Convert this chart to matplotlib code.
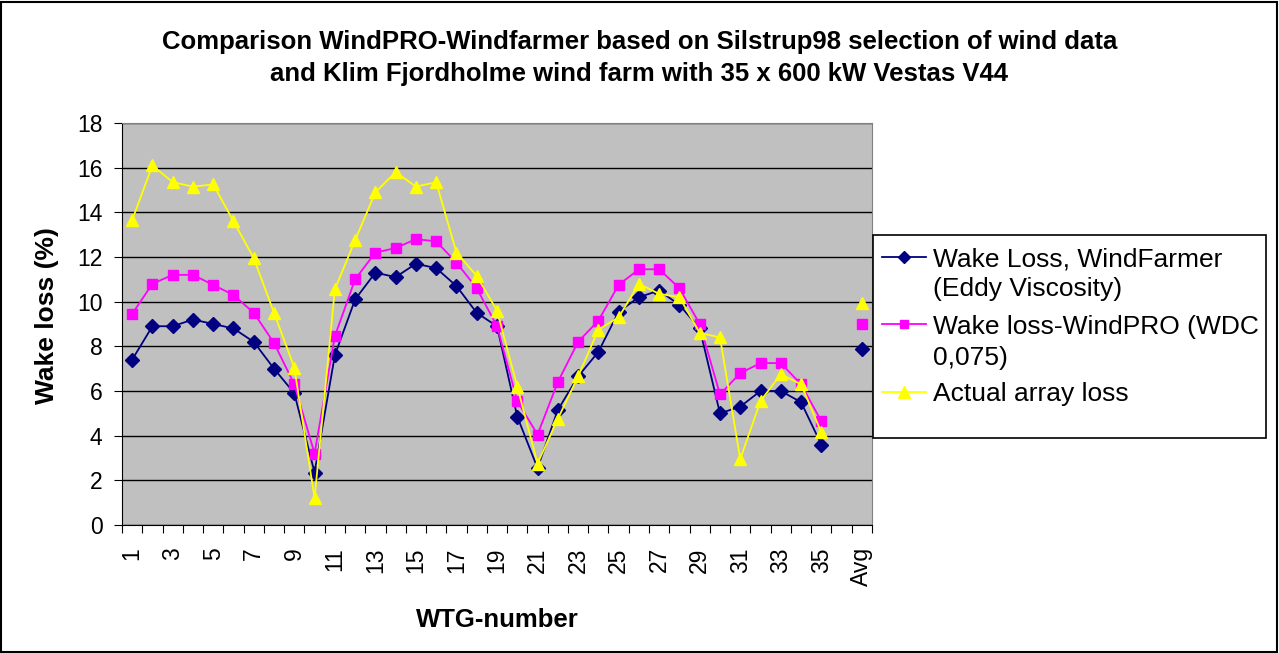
import numpy as np
import matplotlib
matplotlib.use("Agg")
import matplotlib.pyplot as plt
from matplotlib.patches import Rectangle
from matplotlib.lines import Line2D

plt.rcParams['font.family'] = ['Liberation Sans', 'DejaVu Sans']

# data (wake loss in %)
wtg = list(range(1, 36))
windfarmer = [7.4, 8.9, 8.9, 9.2, 9.0, 8.8, 8.2, 7.0, 5.9, 2.35,
              7.6, 10.1, 11.3, 11.1, 11.7, 11.5, 10.7, 9.5, 8.9, 4.85,
              2.55, 5.15, 6.65, 7.75, 9.55, 10.2, 10.5, 9.85, 8.8, 5.0,
              5.3, 6.0, 6.0, 5.5, 3.6]
windpro = [9.45, 10.8, 11.2, 11.2, 10.75, 10.3, 9.5, 8.15, 6.3, 3.2,
           8.45, 11.0, 12.2, 12.4, 12.8, 12.7, 11.75, 10.6, 8.9, 5.55,
           4.05, 6.4, 8.2, 9.15, 10.75, 11.45, 11.45, 10.6, 9.0, 5.85,
           6.8, 7.25, 7.25, 6.3, 4.65]
actual = [13.65, 16.1, 15.35, 15.15, 15.25, 13.6, 11.95, 9.5, 7.05, 1.2,
          10.55, 12.75, 14.9, 15.8, 15.15, 15.35, 12.2, 11.15, 9.6, 6.2,
          2.75, 4.75, 6.65, 8.75, 9.3, 10.8, 10.35, 10.2, 8.6, 8.4,
          2.95, 5.55, 6.75, 6.3, 4.15]
avg_windfarmer = 7.87
avg_windpro = 9.02
avg_actual = 9.95

labels = [str(n) if n % 2 == 1 else "" for n in wtg] + ["", "Avg"]

W, H = 1279, 653
fig = plt.figure(figsize=(W / 100, H / 100), dpi=100)
fig.patch.set_facecolor("white")
fig.patches.append(Rectangle((1 / W, 1 / H), 1 - 3 / W, 1 - 3 / H, transform=fig.transFigure,
                             fill=False, edgecolor="black", linewidth=1.5))

ax = fig.add_axes([122 / W, (H - 525) / H, 750 / W, 402 / H])
ax.set_facecolor("#C0C0C0")

x = np.arange(len(wtg))
x_avg = len(wtg) + 1
series = [
    (windfarmer, avg_windfarmer, "#000080", "D", 7, ["Wake Loss, WindFarmer", "(Eddy Viscosity)"]),
    (windpro, avg_windpro, "#FF00FF", "s", 7, ["Wake loss-WindPRO (WDC", "0,075)"]),
    (actual, avg_actual, "#FFFF00", "^", 9, ["Actual array loss"]),
]
for vals, avg, col, mk, ms, name in series:
    ax.plot(x, vals, color=col, marker=mk, markersize=ms, linewidth=1.3, markeredgecolor=col)
    ax.plot([x_avg], [avg], color=col, marker=mk, markersize=ms, linestyle="none")

ax.set_xlim(-0.5, len(labels) - 0.5)
ax.set_ylim(0, 18)
ax.set_yticks(np.arange(0, 19, 2))
ax.yaxis.grid(True, color="black", linewidth=1.0)
ax.set_axisbelow(True)

# boundary ticks without labels, labels centred on categories
ax.set_xticks(np.arange(-0.5, len(labels), 1.0))
ax.set_xticklabels([])
ax.set_xticks(np.arange(len(labels)), minor=True)
ax.set_xticklabels(labels, minor=True, rotation=90, fontsize=16.5)
ax.tick_params(axis="x", which="minor", length=0, pad=16)
ax.tick_params(axis="x", which="major", length=6, direction="out", color="black")
ax.tick_params(axis="y", length=6, direction="out", labelsize=16.5, pad=8)

for side in ["top", "right"]:
    ax.spines[side].set_color("#808080")
for side in ["left", "bottom"]:
    ax.spines[side].set_color("black")

ax.set_ylabel("Wake loss (%)", fontsize=19, fontweight="bold")
ax.yaxis.set_label_coords(-0.084, 0.522)
ax.set_xlabel("WTG-number", fontsize=18.5, fontweight="bold")
ax.xaxis.set_label_coords(0.5, -0.207)

fig.text(0.5, 1 - 42 / H, "Comparison WindPRO-Windfarmer based on Silstrup98 selection of wind data",
         ha="center", va="center", fontsize=18.5, fontweight="bold")
fig.text(0.5, 1 - 74 / H, "and Klim Fjordholme wind farm with 35 x 600 kW Vestas V44",
         ha="center", va="center", fontsize=18.5, fontweight="bold")

# legend, drawn by hand so the key sits on the first text line like Excel does
fig.patches.append(Rectangle((873 / W, (H - 438) / H), 393 / W, 203 / H, transform=fig.transFigure,
                             fill=True, facecolor="white", edgecolor="black", linewidth=1.2))
line_rows = [[256.7, 286.7], [324, 355], [391.7]]
for (vals, avg, col, mk, ms, name), rows in zip(series, line_rows):
    ky = 1 - rows[0] / H
    fig.add_artist(Line2D([882 / W, 926 / W], [ky, ky], transform=fig.transFigure,
                          color=col, linewidth=1.3))
    fig.add_artist(Line2D([904 / W], [ky], transform=fig.transFigure, color=col,
                          marker=mk, markersize=ms - 1, markeredgecolor=col, linestyle="none"))
    for txt, ry in zip(name, rows):
        fig.text(933 / W, 1 - (ry + 9.5) / H, txt, ha="left", va="baseline", fontsize=19)

fig.savefig("out.png", dpi=100)
